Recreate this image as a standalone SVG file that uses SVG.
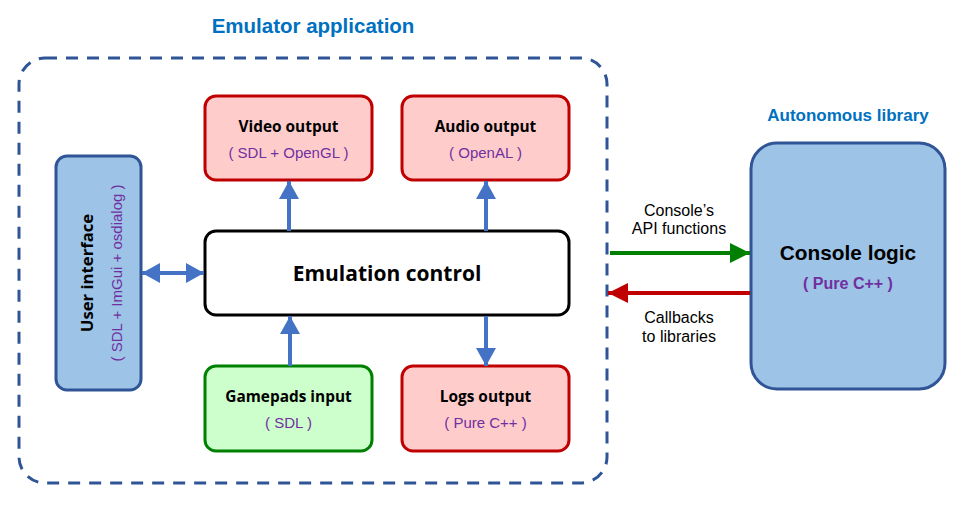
<svg xmlns="http://www.w3.org/2000/svg" width="966" height="505" viewBox="0 0 966 505">
<style>
.title{font-family:"Liberation Sans",Arial,sans-serif;font-weight:bold;fill:#0070C0;text-anchor:middle}
.red{fill:#FFCCCC;stroke:#C00000;stroke-width:3}
.green{fill:#CCFFCC;stroke:#008000;stroke-width:3}
.blue{fill:#9DC3E6;stroke:#2F5597;stroke-width:3}
.lbl{font-family:"Open Sans","Noto Sans",sans-serif;font-weight:bold;font-size:15.4px;fill:#000;text-anchor:middle}
.sub{font-family:"Liberation Sans",Arial,sans-serif;font-size:15px;fill:#7030A0;text-anchor:middle}
.note{font-family:"Liberation Sans",Arial,sans-serif;font-size:16px;fill:#000;text-anchor:middle}
.bl{stroke:#4472C4;stroke-width:4;fill:none}
</style>
<defs>
<marker id="ab" viewBox="0 0 18 20" refX="18" refY="10" markerWidth="18" markerHeight="20" markerUnits="userSpaceOnUse" orient="auto-start-reverse"><path d="M0,0 L18,10 L0,20 Z" fill="#4472C4"/></marker>
<marker id="ag" viewBox="0 0 20 20" refX="20" refY="10" markerWidth="20" markerHeight="20" markerUnits="userSpaceOnUse" orient="auto"><path d="M0,0 L20,10 L0,20 Z" fill="#008000"/></marker>
<marker id="ar" viewBox="0 0 20 20" refX="20" refY="10" markerWidth="20" markerHeight="20" markerUnits="userSpaceOnUse" orient="auto"><path d="M0,0 L20,10 L0,20 Z" fill="#C00000"/></marker>
</defs>
<rect width="966" height="505" fill="#fff"/>
<g id="emulator-app">
<rect x="19" y="58" width="588" height="425" rx="26" fill="none" stroke="#2F5597" stroke-width="3" stroke-dasharray="12 9"/>
<text class="title" x="313" y="33" font-size="20.5">Emulator application</text>
</g>
<g id="autonomous-title"><text class="title" x="848" y="121" font-size="17">Autonomous library</text></g>
<g id="video-output">
<rect class="red" x="205" y="96" width="167" height="84" rx="11"/>
<text class="lbl" x="288.5" y="132">Video output</text>
<text class="sub" x="288.5" y="158">( SDL + OpenGL )</text>
</g>
<g id="audio-output">
<rect class="red" x="402" y="96" width="167" height="84" rx="11"/>
<text class="lbl" x="485.5" y="132">Audio output</text>
<text class="sub" x="485.5" y="158">( OpenAL )</text>
</g>
<g id="emulation-control">
<rect x="205" y="231" width="364" height="84" rx="11" fill="#fff" stroke="#000" stroke-width="3"/>
<text x="387" y="281" font-family="'Open Sans','Noto Sans',sans-serif" font-weight="bold" font-size="21" text-anchor="middle">Emulation control</text>
</g>
<g id="gamepads-input">
<rect class="green" x="205" y="366" width="167" height="85" rx="11"/>
<text class="lbl" x="288.5" y="402">Gamepads input</text>
<text class="sub" x="288.5" y="428">( SDL )</text>
</g>
<g id="logs-output">
<rect class="red" x="402" y="366" width="167" height="85" rx="11"/>
<text class="lbl" x="485.5" y="402">Logs output</text>
<text class="sub" x="485.5" y="428">( Pure C++ )</text>
</g>
<g id="user-interface">
<rect class="blue" x="56" y="156" width="85" height="234" rx="11"/>
<g transform="translate(93,273) rotate(-90)">
<text x="0" y="0" font-family="'Open Sans','Noto Sans',sans-serif" font-weight="bold" font-size="16.7" text-anchor="middle">User interface</text>
</g>
<g transform="translate(122,273) rotate(-90)">
<text class="sub" x="0" y="0" font-size="16.4">( SDL + ImGui + osdialog )</text>
</g>
</g>
<g id="console-logic">
<rect class="blue" x="751" y="143" width="194" height="246" rx="26"/>
<text x="848" y="260" font-family="'Liberation Sans',Arial,sans-serif" font-weight="bold" font-size="20.8" text-anchor="middle">Console logic</text>
<text x="848" y="289" font-family="'Liberation Sans',Arial,sans-serif" font-weight="bold" font-size="16" fill="#7030A0" text-anchor="middle">( Pure C++ )</text>
</g>
<g id="connectors">
<line class="bl" x1="289" y1="231" x2="289" y2="181" marker-end="url(#ab)"/>
<line class="bl" x1="486" y1="231" x2="486" y2="181" marker-end="url(#ab)"/>
<line class="bl" x1="290" y1="366" x2="290" y2="316" marker-end="url(#ab)"/>
<line class="bl" x1="486" y1="316" x2="486" y2="366" marker-end="url(#ab)"/>
<line class="bl" x1="142" y1="273" x2="204" y2="273" marker-start="url(#ab)" marker-end="url(#ab)"/>
<line x1="610" y1="253" x2="750" y2="253" stroke="#008000" stroke-width="4" marker-end="url(#ag)"/>
<line x1="750" y1="293" x2="608" y2="293" stroke="#C00000" stroke-width="4" marker-end="url(#ar)"/>
<text class="note" x="679" y="216">Console’s</text>
<text class="note" x="679" y="234">API functions</text>
<text class="note" x="679" y="323">Callbacks</text>
<text class="note" x="679" y="342">to libraries</text>
</g>
</svg>
